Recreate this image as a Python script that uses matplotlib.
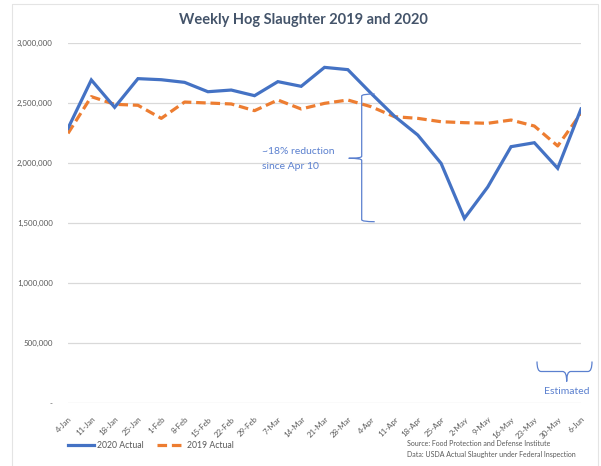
import matplotlib
matplotlib.use("Agg")
import matplotlib.pyplot as plt
import matplotlib.transforms as mtransforms
from matplotlib.path import Path
from matplotlib.patches import PathPatch, Rectangle
from matplotlib.ticker import FuncFormatter
import numpy as np

plt.rcParams['font.family'] = ['Lato', 'DejaVu Sans']

# data
weeks = ["4-Jan", "11-Jan", "18-Jan", "25-Jan", "1-Feb", "8-Feb", "15-Feb", "22-Feb",
         "29-Feb", "7-Mar", "14-Mar", "21-Mar", "28-Mar", "4-Apr", "11-Apr", "18-Apr",
         "25-Apr", "2-May", "9-May", "16-May", "23-May", "30-May", "6-Jun"]
actual_2020 = [2289000, 2692000, 2464000, 2703000, 2694000, 2672000, 2594000, 2608000,
               2561000, 2678000, 2639000, 2797000, 2778000, 2580000, 2390000, 2233000,
               1997000, 1539000, 1800000, 2136000, 2169000, 1956000, 2450000]
actual_2019 = [2247000, 2553000, 2489000, 2481000, 2372000, 2508000, 2500000, 2492000,
               2436000, 2525000, 2450000, 2497000, 2525000, 2469000, 2386000, 2372000,
               2344000, 2336000, 2331000, 2358000, 2308000, 2142000, 2414000]
yticks = [0, 500000, 1000000, 1500000, 2000000, 2500000, 3000000]

blue = '#4472C4'
orange = '#ED7D31'
grid_c = '#D9D9D9'
txt_c = '#595959'
note_c = '#5B80CF'

W, H = 601, 466
fig = plt.figure(figsize=(W / 100, H / 100), dpi=100)
ax = fig.add_axes([68 / W, 1 - 403 / H, (581 - 68) / W, (403 - 43) / H])

# pixel transform (top-left origin, like the picture)
px = mtransforms.Affine2D().scale(1 / W, -1 / H).translate(0, 1) + fig.transFigure

# chart border
fig.patches.append(Rectangle((11.5, 4), 586, 470, transform=px, fill=False,
                             edgecolor='#E4E4E4', lw=0.8))

x = np.arange(len(weeks))
ax.plot(x, actual_2020, color=blue, lw=2.3, label='2020 Actual', solid_joinstyle='miter', zorder=3)
ax.plot(x, actual_2019, color=orange, lw=2.3, ls=(0, (3.0, 1.5)), label='2019 Actual', zorder=2)

ax.set_xlim(0, len(weeks) - 1)
ax.set_ylim(0, 3000000)
ax.set_yticks(yticks)
ax.yaxis.set_major_formatter(FuncFormatter(lambda v, p: '-' if v == 0 else f'{int(v):,}'))
ax.set_xticks(x)
ax.set_xticklabels(weeks, rotation=45, ha='right', va='top', rotation_mode='anchor')
ax.tick_params(axis='both', length=0, labelsize=5.7, colors=txt_c)
ax.tick_params(axis='y', pad=11)
ax.tick_params(axis='x', pad=9)
for s in ax.spines.values():
    s.set_visible(False)
ax.grid(axis='y', color=grid_c, lw=0.9)
ax.set_axisbelow(True)

fig.text(303 / W, 1 - 20 / H, 'Weekly Hog Slaughter 2019 and 2020', ha='center', va='center',
         fontsize=10.5, fontweight='bold', color='#44546A')


def vbrace(xc, ytop, ybot, ytip, w, r):
    # brace with tip pointing left, ends curling right
    verts = [(xc + w, ytop), (xc, ytop), (xc, ytop + r), (xc, ytop + 2 * r),
             (xc, ytip - r), (xc, ytip), (xc - w, ytip),
             (xc, ytip), (xc, ytip + r),
             (xc, ybot - 2 * r), (xc, ybot - r), (xc, ybot), (xc + w, ybot)]
    codes = [Path.MOVETO, Path.CURVE3, Path.CURVE3, Path.LINETO,
             Path.LINETO, Path.CURVE3, Path.CURVE3,
             Path.CURVE3, Path.CURVE3,
             Path.LINETO, Path.LINETO, Path.CURVE3, Path.CURVE3]
    return Path(verts, codes)


def hbrace(x0, x1, ytop, ybar, xtip, ytip):
    # brace opening upward, tip pointing down
    verts = [(x0, ytop), (x0, ybar), (x0 + 4, ybar),
             (xtip - 4, ybar), (xtip, ybar), (xtip, ytip),
             (xtip, ybar), (xtip + 4, ybar),
             (x1 - 4, ybar), (x1, ybar), (x1, ytop)]
    codes = [Path.MOVETO, Path.CURVE3, Path.CURVE3,
             Path.LINETO, Path.CURVE3, Path.CURVE3,
             Path.CURVE3, Path.CURVE3,
             Path.LINETO, Path.CURVE3, Path.CURVE3]
    return Path(verts, codes)


fig.patches.append(PathPatch(vbrace(361.7, 94, 221.7, 158.3, 13, 2), transform=px,
                             fill=False, edgecolor=note_c, lw=0.9))
fig.text(262 / W, 1 - 151 / H, '~18% reduction', ha='left', va='center', fontsize=7.5, color=note_c)
fig.text(262 / W, 1 - 166.5 / H, 'since Apr 10', ha='left', va='center', fontsize=7.5, color=note_c)

fig.patches.append(PathPatch(hbrace(537, 592, 361.5, 371.5, 566.7, 381.5), transform=px,
                             fill=False, edgecolor=note_c, lw=0.9))
fig.text(567 / W, 1 - 392 / H, 'Estimated', ha='center', va='center', fontsize=7.5, color=note_c)

# legend
h, l = ax.get_legend_handles_labels()
fig.legend(h, l, loc='center left', bbox_to_anchor=(60 / W, 1 - 446 / H), ncol=2, frameon=False,
           fontsize=6.2, labelcolor=txt_c, handlelength=3.0, handletextpad=0.4, columnspacing=1.6)

fig.text(407 / W, 1 - 444 / H, 'Source: Food Protection and Defense Institute', ha='left',
         va='center', fontsize=5, color=txt_c)
fig.text(407 / W, 1 - 454.5 / H, 'Data: USDA Actual Slaughter under Federal Inspection', ha='left',
         va='center', fontsize=5, color=txt_c)

fig.savefig('out.png', dpi=100, facecolor='white')
